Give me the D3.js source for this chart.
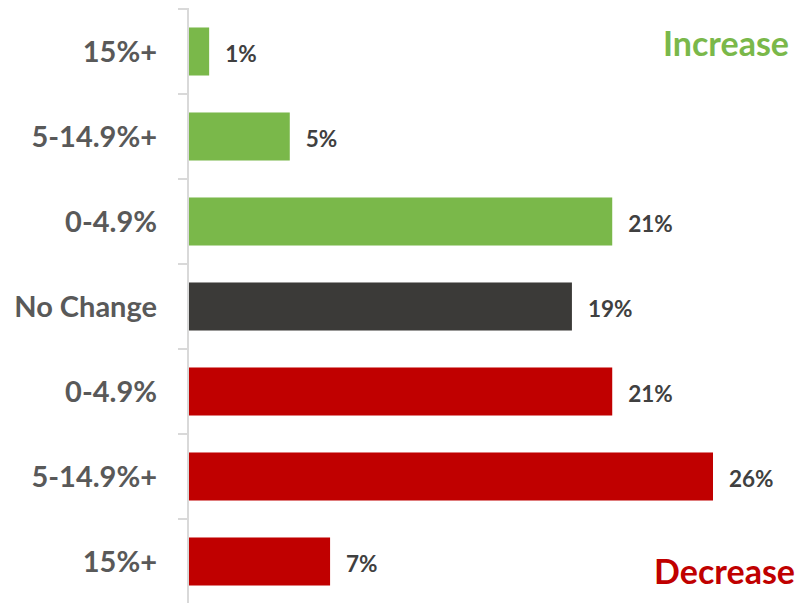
<!DOCTYPE html>
<html>
<head>
<meta charset="utf-8">
<script src="https://cdn.jsdelivr.net/npm/d3@7"></script>
<style>
  html, body { margin: 0; padding: 0; background: #fff; }
  svg { display: block; font-family: Lato, "Open Sans", sans-serif; }
</style>
</head>
<body>
<svg id="chart" width="800" height="603"></svg>
<script>
// Share of respondents by size of change
const ids = ["inc15", "inc5", "inc0", "none", "dec0", "dec5", "dec15"];
const labels = ["15%+", "5-14.9%+", "0-4.9%", "No Change", "0-4.9%", "5-14.9%+", "15%+"];
const values = [1, 5, 21, 19, 21, 26, 7];
const groups = ["increase", "increase", "increase", "none", "decrease", "decrease", "decrease"];
const groupColors = { increase: "#7ab84a", none: "#3b3a38", decrease: "#c00000" };

const rows = ids.map((id, i) => ({ id, label: labels[i], value: values[i], group: groups[i] }));

const svg = d3.select("#chart");
const x0 = 189, x1 = 713;
const y = d3.scaleBand().domain(ids).range([9, 604]).paddingInner(0.435).paddingOuter(0.2175);
const x = d3.scaleLinear().domain([0, 26]).range([x0, x1]);

// category axis with tick marks between bands
const tickYs = d3.range(ids.length + 1).map(i => 9 + i * (595 / ids.length));
svg.append("g").selectAll("line").data(tickYs).join("line")
  .attr("x1", 178).attr("x2", 188).attr("y1", d => d).attr("y2", d => d)
  .attr("stroke", "#d9d9d9").attr("stroke-width", 2);
svg.append("line").attr("x1", 188).attr("x2", 188).attr("y1", 8).attr("y2", 603)
  .attr("stroke", "#d9d9d9").attr("stroke-width", 2);

// bars
svg.append("g").selectAll("rect").data(rows).join("rect")
  .attr("x", x0)
  .attr("y", d => y(d.id))
  .attr("width", d => x(d.value) - x0)
  .attr("height", y.bandwidth())
  .attr("fill", d => groupColors[d.group]);

// category labels
svg.append("g").selectAll("text").data(rows).join("text")
  .attr("x", 157)
  .attr("y", d => y(d.id) + y.bandwidth() / 2)
  .attr("dy", "0.35em")
  .attr("text-anchor", "end")
  .attr("font-size", 29)
  .attr("font-weight", 700)
  .attr("fill", "#595959")
  .text(d => d.label);

// value labels
svg.append("g").selectAll("text").data(rows).join("text")
  .attr("x", d => x(d.value) + 16)
  .attr("y", d => y(d.id) + y.bandwidth() / 2 + 3)
  .attr("dy", "0.35em")
  .attr("font-size", 22.5)
  .attr("font-weight", 700)
  .attr("fill", "#404040")
  .text(d => d3.format("d")(d.value) + "%");

// group captions
svg.append("text").attr("x", 789).attr("y", 56).attr("text-anchor", "end")
  .attr("font-size", 34).attr("font-weight", 700).attr("fill", groupColors.increase)
  .text("Increase");
svg.append("text").attr("x", 795).attr("y", 584).attr("text-anchor", "end")
  .attr("font-size", 34).attr("font-weight", 700).attr("fill", groupColors.decrease)
  .text("Decrease");
</script>
</body>
</html>
